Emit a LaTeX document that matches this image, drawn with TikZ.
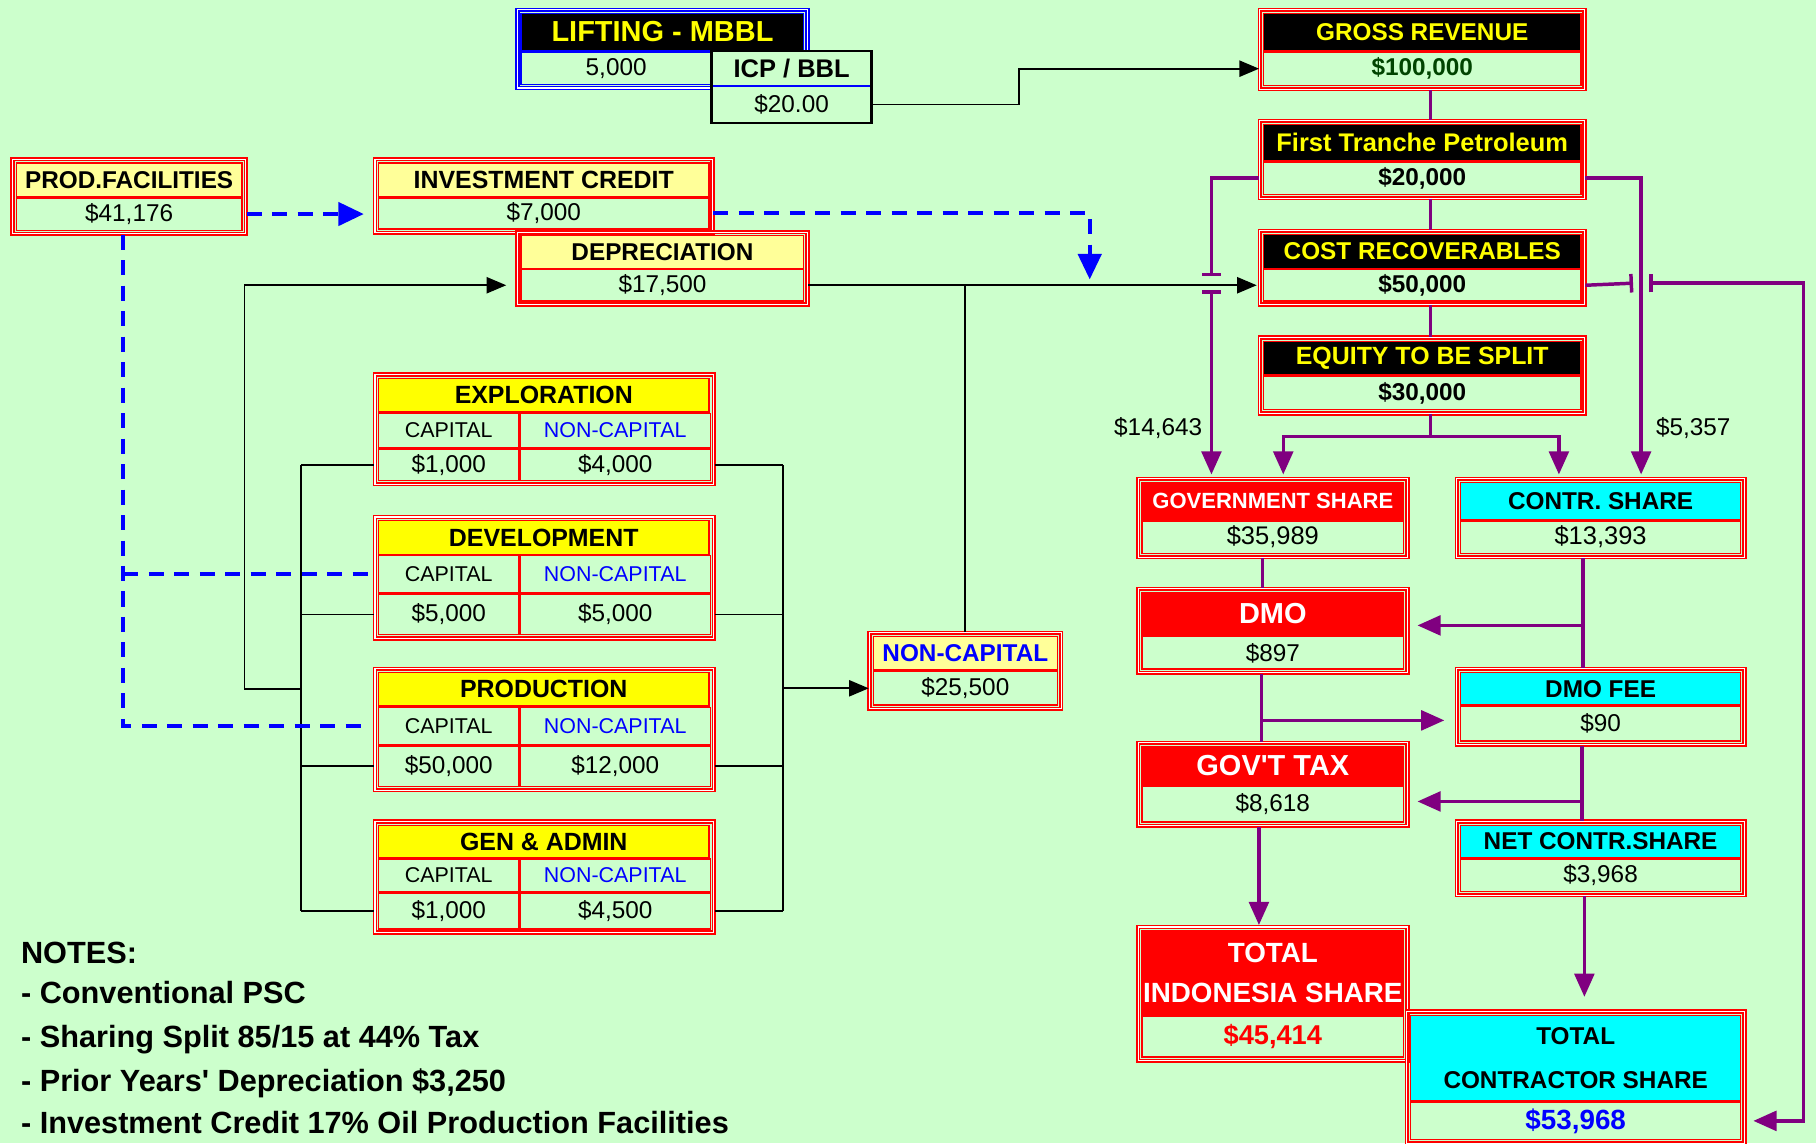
\documentclass[tikz,border=0pt]{standalone}
\usepackage{fontspec}
\setmainfont{Liberation Sans}
\usetikzlibrary{arrows.meta,positioning,fit}
\definecolor{bg}{RGB}{204,255,204}
\definecolor{pur}{RGB}{128,0,128}
\definecolor{paleyel}{RGB}{255,255,153}
\definecolor{brightyel}{RGB}{255,255,0}
\definecolor{aqua}{RGB}{0,255,255}
\definecolor{dkgreen}{RGB}{0,68,0}
\newcommand{\fsz}[2]{\fontsize{#1}{#2}\selectfont}
\tikzset{
  >={Triangle[length=17pt,width=14pt]},
  cell/.style={
    rectangle, inner sep=0pt, anchor=north, align=center,
    draw=red, line width=1.2pt, fill=bg
  },
  hblack/.style={cell, fill=black, text=brightyel, font=\bfseries\fsz{21}{25}},
  hpale/.style={cell, fill=paleyel, font=\bfseries\fsz{21}{25}},
  hyel/.style={cell, fill=brightyel, font=\bfseries\fsz{21.5}{25}},
  hred/.style={cell, fill=red, text=white, font=\bfseries\fsz{25}{30}},
  hcyan/.style={cell, fill=aqua, font=\bfseries\fsz{21}{25}},
  val/.style={cell, font=\fsz{21}{25}},
  valb/.style={cell, font=\bfseries\fsz{21}{25}},
  sub/.style={cell, anchor=north west, font=\fsz{18.5}{22}},
  subv/.style={cell, anchor=north west, font=\fsz{21}{25}},
  dbox/.style={draw=red, line width=1.4pt, double=white, double distance=0.9pt, inner sep=2.6pt},
  lbl/.style={font=\fsz{21}{25}},
  note/.style={anchor=base west, inner sep=0pt, font=\bfseries\fsz{26.5}{30}},
  bline/.style={draw=black, line width=1.5pt},
  pline/.style={draw=pur, line width=3pt},
  parrow/.style={pline, -{Triangle[length=20pt,width=17pt]}, shorten >=3pt},
  dline/.style={draw=blue, line width=3.5pt, dash pattern=on 13pt off 9pt},
  darrow/.style={dline, -{Triangle[length=22pt,width=20pt]}},
}
\begin{document}
\begin{tikzpicture}[x=1pt, y=-1pt]
  \path[use as bounding box, fill=bg] (0,0) rectangle (1568,987);

  \node[hblack, draw=blue, minimum width=244pt, minimum height=32pt, font=\bfseries\fsz{25}{30}] (lfH) at (572,11) {LIFTING - MBBL};
  \node[subv, draw=blue, minimum width=164pt, minimum height=28pt] (lfV) at (lfH.south west) {5,000};
  \node[dbox, draw=blue, fit=(lfH)(lfV)] (lf) {};

  \node[cell, draw=none, minimum width=137pt, minimum height=29pt, font=\bfseries\fsz{22}{26}] (icpH) at (683.5,44) {ICP / BBL};
  \node[val, draw=none, minimum width=137pt, minimum height=31pt, below=0pt of icpH] (icpV) {\$20.00};
  \draw[blue, line width=1.5pt] (icpH.south west) -- (icpH.south east);
  \node[draw=black, line width=2pt, inner sep=0pt, fit=(icpH)(icpV)] (icp) {};

  \node[hblack, minimum width=274pt, minimum height=32pt] (grH) at (1228,11) {GROSS REVENUE};
  \node[valb, text=dkgreen, minimum width=274pt, minimum height=29pt, below=0pt of grH] (grV) {\$100,000};
  \node[dbox, fit=(grH)(grV)] (gr) {};

  \node[hblack, minimum width=274pt, minimum height=31pt, font=\bfseries\fsz{22}{26}] (ftpH) at (1228,107) {First Tranche Petroleum};
  \node[valb, minimum width=274pt, minimum height=28pt, below=0pt of ftpH] (ftpV) {\$20,000};
  \node[dbox, fit=(ftpH)(ftpV)] (ftp) {};

  \node[hblack, minimum width=274pt, minimum height=29pt] (crH) at (1228,202) {COST RECOVERABLES};
  \node[valb, minimum width=274pt, minimum height=27pt, below=0pt of crH] (crV) {\$50,000};
  \node[dbox, fit=(crH)(crV)] (cr) {};

  \node[hblack, minimum width=274pt, minimum height=29pt, font=\bfseries\fsz{21.5}{25}] (eqH) at (1228,294) {EQUITY TO BE SPLIT};
  \node[valb, minimum width=274pt, minimum height=29pt, below=0pt of eqH] (eqV) {\$30,000};
  \node[dbox, fit=(eqH)(eqV)] (eq) {};

  \node[hred, minimum width=226pt, minimum height=32pt, font=\bfseries\fsz{19}{23}] (gsH) at (1099,416) {GOVERNMENT SHARE};
  \node[val, minimum width=226pt, minimum height=28pt, font=\fsz{22}{26}, below=0pt of gsH] (gsV) {\$35,989};
  \node[dbox, fit=(gsH)(gsV)] (gs) {};

  \node[hcyan, minimum width=242pt, minimum height=32pt] (csH) at (1382,416) {CONTR. SHARE};
  \node[val, minimum width=242pt, minimum height=28pt, font=\fsz{22}{26}, below=0pt of csH] (csV) {\$13,393};
  \node[dbox, fit=(csH)(csV)] (cs) {};

  \node[hred, minimum width=226pt, minimum height=37pt] (dmoH) at (1099,511) {DMO};
  \node[val, minimum width=226pt, minimum height=28pt, below=0pt of dmoH] (dmoV) {\$897};
  \node[dbox, fit=(dmoH)(dmoV)] (dmo) {};

  \node[hcyan, minimum width=242pt, minimum height=28pt] (feeH) at (1382,580) {DMO FEE};
  \node[val, minimum width=242pt, minimum height=30pt, below=0pt of feeH] (feeV) {\$90};
  \node[dbox, fit=(feeH)(feeV)] (fee) {};

  \node[hred, minimum width=226pt, minimum height=33pt] (taxH) at (1099,644) {GOV\textquotesingle T TAX};
  \node[val, minimum width=226pt, minimum height=31pt, below=0pt of taxH] (taxV) {\$8,618};
  \node[dbox, fit=(taxH)(taxV)] (tax) {};

  \node[hcyan, minimum width=242pt, minimum height=28pt] (netH) at (1382,712) {NET CONTR.SHARE};
  \node[val, minimum width=242pt, minimum height=28pt, below=0pt of netH] (netV) {\$3,968};
  \node[dbox, fit=(netH)(netV)] (net) {};

  \node[hred, minimum width=226pt, minimum height=73pt, font=\bfseries\fsz{24}{35}] (tisH) at (1099,803) {TOTAL\\INDONESIA SHARE};
  \node[valb, text=red, minimum width=226pt, minimum height=35pt, font=\bfseries\fsz{23.5}{28}, below=0pt of tisH] (tisV) {\$45,414};
  \node[dbox, fit=(tisH)(tisV)] (tis) {};

  \node[hcyan, minimum width=285pt, minimum height=74pt, font=\bfseries\fsz{21}{38}] (tcsH) at (1360.5,876) {TOTAL\\CONTRACTOR SHARE};
  \node[valb, text=blue, minimum width=285pt, minimum height=32pt, font=\bfseries\fsz{24}{28}, below=0pt of tcsH] (tcsV) {\$53,968};
  \node[dbox, fit=(tcsH)(tcsV)] (tcs) {};

  \node[hpale, minimum width=195pt, minimum height=29pt] (pfH) at (111.5,140) {PROD.FACILITIES};
  \node[val, minimum width=195pt, minimum height=28pt, below=0pt of pfH] (pfV) {\$41,176};
  \node[dbox, fit=(pfH)(pfV)] (pf) {};

  \node[hpale, minimum width=285pt, minimum height=29pt, font=\bfseries\fsz{21.5}{25}] (icH) at (469.5,140) {INVESTMENT CREDIT};
  \node[val, minimum width=285pt, minimum height=27pt, below=0pt of icH] (icV) {\$7,000};
  \node[dbox, fit=(icH)(icV)] (ic) {};

  \node[hpale, minimum width=244pt, minimum height=28pt] (depH) at (572,203) {DEPRECIATION};
  \node[val, minimum width=244pt, minimum height=27pt, below=0pt of depH] (depV) {\$17,500};
  \node[dbox, fit=(depH)(depV)] (dep) {};

  \node[hpale, text=blue, minimum width=159pt, minimum height=29pt] (ncH) at (833.5,549) {NON-CAPITAL};
  \node[val, minimum width=159pt, minimum height=29pt, below=0pt of ncH] (ncV) {\$25,500};
  \node[dbox, fit=(ncH)(ncV)] (nc) {};

  \node[hyel, minimum width=285pt, minimum height=29pt] (exH) at (469.5,326) {EXPLORATION};
  \node[sub, minimum width=121pt, minimum height=30pt] (exC) at (exH.south west) {CAPITAL};
  \node[sub, text=blue, minimum width=164pt, minimum height=30pt] (exN) at (exC.north east) {NON-CAPITAL};
  \node[subv, minimum width=121pt, minimum height=27pt] (exCv) at (exC.south west) {\$1,000};
  \node[subv, minimum width=164pt, minimum height=27pt] (exNv) at (exCv.north east) {\$4,000};
  \node[dbox, fit=(exH)(exNv)] (ex) {};

  \node[hyel, minimum width=285pt, minimum height=29pt] (dvH) at (469.5,449) {DEVELOPMENT};
  \node[sub, minimum width=121pt, minimum height=32pt] (dvC) at (dvH.south west) {CAPITAL};
  \node[sub, text=blue, minimum width=164pt, minimum height=32pt] (dvN) at (dvC.north east) {NON-CAPITAL};
  \node[subv, minimum width=121pt, minimum height=35pt] (dvCv) at (dvC.south west) {\$5,000};
  \node[subv, minimum width=164pt, minimum height=35pt] (dvNv) at (dvCv.north east) {\$5,000};
  \node[dbox, fit=(dvH)(dvNv)] (dv) {};

  \node[hyel, minimum width=285pt, minimum height=29pt] (prH) at (469.5,580) {PRODUCTION};
  \node[sub, minimum width=121pt, minimum height=32pt] (prC) at (prH.south west) {CAPITAL};
  \node[sub, text=blue, minimum width=164pt, minimum height=32pt] (prN) at (prC.north east) {NON-CAPITAL};
  \node[subv, minimum width=121pt, minimum height=35pt] (prCv) at (prC.south west) {\$50,000};
  \node[subv, minimum width=164pt, minimum height=35pt] (prNv) at (prCv.north east) {\$12,000};
  \node[dbox, fit=(prH)(prNv)] (pr) {};

  \node[hyel, minimum width=285pt, minimum height=28pt] (gaH) at (469.5,712) {GEN \& ADMIN};
  \node[sub, minimum width=121pt, minimum height=28pt] (gaC) at (gaH.south west) {CAPITAL};
  \node[sub, text=blue, minimum width=164pt, minimum height=28pt] (gaN) at (gaC.north east) {NON-CAPITAL};
  \node[subv, minimum width=121pt, minimum height=31pt] (gaCv) at (gaC.south west) {\$1,000};
  \node[subv, minimum width=164pt, minimum height=31pt] (gaNv) at (gaCv.north east) {\$4,500};
  \node[dbox, fit=(gaH)(gaNv)] (ga) {};

  \node[lbl] (l14) at (1000,370) {\$14,643};
  \node[lbl] (l5) at (1462,370) {\$5,357};

  \node[note] (notes) at (18,831.5) {NOTES:};
  \node[note] (n1) at (18,866.5) {- Conventional PSC};
  \node[note] (n2) at (18,904.5) {- Sharing Split 85/15 at 44\% Tax};
  \node[note] (n3) at (18,942.5) {- Prior Years\textquotesingle{} Depreciation \$3,250};
  \node[note] (n4) at (18,978.5) {- Investment Credit 17\% Oil Production Facilities};

  \coordinate (capbus) at (260,0);
  \coordinate (ncbus) at (676,0);
  \coordinate (xl) at (1046,244.5);
  \coordinate (xr) at (1417,244.5);
  \coordinate (rail) at (1557,244.5);
  \coordinate (j1) at (1367,540);
  \coordinate (j2) at (1089,622);
  \coordinate (j3) at (1366,692);
  \coordinate (pfD) at ([xshift=-5pt]pf.south);
  \coordinate (netD) at ([xshift=-14pt]net.south);

  \draw[bline, ->] (icpV.east) -- ++(127,0) |- (gr.west |- grV);
  \draw[bline, ->, shorten >=2pt] (dep.east |- depV) -- (cr.west |- crV);
  \draw[bline] (nc.north) -- (nc.north |- depV);
  \draw[bline] (capbus |- exCv) -- (capbus |- gaCv);
  \draw[bline] (capbus |- exCv) -- (ex.west |- exCv);
  \draw[bline] (capbus |- dvCv) -- (dv.west |- dvCv);
  \draw[bline] (capbus |- prCv) -- (pr.west |- prCv);
  \draw[bline] (capbus |- gaCv) -- (ga.west |- gaCv);
  \draw[bline, ->, shorten >=9pt] (capbus |- prH) -- ++(-49,0) |- (dep.west |- depV);
  \draw[bline] (ncbus |- exNv) -- (ncbus |- gaNv);
  \draw[bline] (ex.east |- exNv) -- (ncbus |- exNv);
  \draw[bline] (dv.east |- dvNv) -- (ncbus |- dvNv);
  \draw[bline] (pr.east |- prNv) -- (ncbus |- prNv);
  \draw[bline] (ga.east |- gaNv) -- (ncbus |- gaNv);
  \draw[bline, ->] (ncbus |- ncV) -- (nc.west |- ncV);

  \draw[darrow, shorten >=9pt] (pf.east |- pfV) -- (ic.west |- pfV);
  \draw[darrow] (ic.east |- icV) -- ++(325,0) -- ++(0,57);
  \draw[dline, shorten >=5pt] (pfD) |- (pr.west |- prC);
  \draw[dline, shorten >=5pt] (pfD |- dvC) -- (dv.west |- dvC);

  \draw[pline] ([xshift=7pt]gr.south) -- ([xshift=7pt]ftp.north);
  \draw[pline] ([xshift=7pt]ftp.south) -- ([xshift=7pt]cr.north);
  \draw[pline] ([xshift=7pt]cr.south) -- ([xshift=7pt]eq.north);
  \draw[pline] ([xshift=7pt]eq.south) -- ++(0,19) coordinate (eqJ);
  \draw[parrow] (eqJ) -| ([xshift=9pt]gs.north);
  \draw[parrow] (eqJ) -| ([xshift=-36pt]cs.north);
  \draw[pline, -{Bar[width=16pt]}] (ftp.west |- ftpV) -| ([yshift=6pt]xl);
  \draw[pline, {Bar[width=16pt]}-{Triangle[length=20pt,width=17pt]}, shorten >=3pt] ([yshift=-6pt]xl) -- (gs.north -| xl);
  \draw[parrow] (ftp.east |- ftpV) -| (cs.north -| xr);
  \draw[pline, -{Bar[width=16pt]}] (cr.east |- crV) -- ([xshift=-7pt]xr);
  \draw[pline, {Bar[width=16pt]}-{Triangle[length=20pt,width=17pt]}, shorten >=7pt] ([xshift=7pt]xr) -- (rail) |- (tcs.east |- tcsV);

  \draw[pline] ([xshift=-9pt]gs.south) -- ([xshift=-9pt]dmo.north);
  \draw[pline] ([xshift=-15pt]cs.south) -- ([xshift=-15pt]fee.north);
  \draw[parrow, shorten >=8pt] (j1) -- (dmo.east |- j1);
  \draw[pline] ([xshift=-10pt]dmo.south) -- ([xshift=-10pt]tax.north);
  \draw[parrow, shorten >=10pt] (j2) -- (fee.west |- j2);
  \draw[pline] ([xshift=-16pt]fee.south) -- ([xshift=-16pt]net.north);
  \draw[parrow, shorten >=8pt] (j3) -- (tax.east |- j3);
  \draw[parrow, shorten >=1pt] ([xshift=-12pt]tax.south) -- ([xshift=-12pt]tis.north);
  \draw[parrow, shorten >=12pt] (netD) -- (netD |- tcs.north);
\end{tikzpicture}
\end{document}
